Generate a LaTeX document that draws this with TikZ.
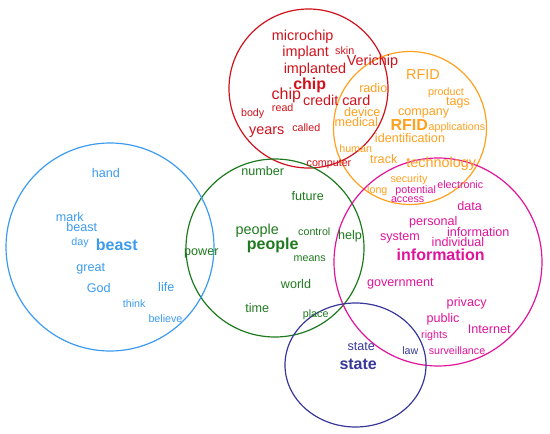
\documentclass[tikz,border=0pt]{standalone}
\usepackage{fontspec}
\setmainfont{Liberation Sans}

\definecolor{chipred}{HTML}{CF121C}
\definecolor{rfidorange}{HTML}{FFA01E}
\definecolor{infomagenta}{HTML}{E0149B}
\definecolor{peoplegreen}{HTML}{1E7A1E}
\definecolor{beastblue}{HTML}{3C9BF0}
\definecolor{statenavy}{HTML}{38389A}

\begin{document}
\begin{tikzpicture}[x=1pt,y=-1pt,
  every node/.style={inner sep=0pt},
  sm/.style={font=\fontsize{10.7}{11}\selectfont},
  md/.style={font=\fontsize{12.6}{13}\selectfont},
  lg/.style={font=\fontsize{14.4}{15}\selectfont},
  hd/.style={font=\fontsize{16}{17}\selectfont\bfseries},
  ring/.style={line width=1.2pt}]
  \useasboundingbox (0,0) rectangle (550,434);
  % topic circles
  \draw[ring,chipred] (308.5,88.5) circle (79.5);
  \draw[ring,rfidorange] (410,128) circle (76.5);
  \draw[ring,peoplegreen] (275,248) circle (89);
  \draw[ring,infomagenta] (438,262) circle (104);
  \draw[ring,beastblue] (110,247) circle (104);
  \draw[ring,statenavy] (355.5,365) ellipse (70.5 and 62);
  % chip
  \begin{scope}[chipred]
    \node[lg] (microchip) at (302.7,37) {microchip};
    \node[lg] (implant) at (305.7,52.7) {implant};
    \node[sm] (skin) at (344.7,51) {skin};
    \node[lg] (implanted) at (315,69.3) {implanted};
    \node[lg] (verichip) at (372.5,62) {Verichip};
    \node[hd] (chipB) at (309.7,85) {chip};
    \node[font=\fontsize{16}{17}\selectfont] (chip) at (286.3,95.7) {chip};
    \node[lg] (creditcard) at (336.7,100.7) {credit card};
    \node[sm] (read) at (282.7,107.3) {read};
    \node[sm] (body) at (252.7,113.3) {body};
    \node[lg] (years) at (266.7,131.7) {years};
    \node[sm] (called) at (306.3,127.7) {called};
    \node[sm] (computer) at (329,164.3) {computer};
  \end{scope}
  % RFID
  \begin{scope}[rfidorange]
    \node[lg] (rfid) at (423,74.3) {RFID};
    \node[md] (radio) at (373.3,87.7) {radio};
    \node[sm] (product) at (446,92.3) {product};
    \node[md] (tags) at (458,102.7) {tags};
    \node[md] (device) at (362.3,111.7) {device};
    \node[md] (company) at (423.7,113.3) {company};
    \node[md] (medical) at (356.3,121.7) {medical};
    \node[hd] (rfidB) at (409.3,125) {RFID};
    \node[sm] (applications) at (457,127.7) {applications};
    \node[md] (identification) at (410,137.7) {identification};
    \node[sm] (human) at (355.7,148.3) {human};
    \node[md] (track) at (383.7,159.3) {track};
    \node[lg] (technology) at (441.3,163.3) {technology};
    \node[sm] (security) at (409,180) {security};
    \node[sm] (long) at (377.3,190.7) {long};
  \end{scope}
  % information
  \begin{scope}[infomagenta]
    \node[sm] (electronic) at (460.3,184.3) {electronic};
    \node[sm] (potential) at (415.7,190.7) {potential};
    \node[sm] (access) at (407.7,200) {access};
    \node[md] (data) at (469.7,206) {data};
    \node[md] (personal) at (433.3,222.3) {personal};
    \node[md] (information) at (478.3,231.7) {information};
    \node[md] (system) at (400,237.7) {system};
    \node[md] (individual) at (458,241.7) {individual};
    \node[hd] (informationB) at (440.7,255) {information};
    \node[md] (government) at (400.3,284) {government};
    \node[md] (privacy) at (466.7,303.3) {privacy};
    \node[md] (public) at (443,319.3) {public};
    \node[md] (internet) at (489.3,329.3) {Internet};
    \node[sm] (rights) at (434.3,336) {rights};
    \node[sm] (surveillance) at (457,350.7) {surveillance};
  \end{scope}
  % people
  \begin{scope}[peoplegreen]
    \node[md] (number) at (262.7,170.7) {number};
    \node[md] (future) at (307.7,195.7) {future};
    \node[lg] (people) at (257.3,230.7) {people};
    \node[sm] (control) at (314.3,232) {control};
    \node[hd] (peopleB) at (272.7,245.7) {people};
    \node[md] (help) at (350,236.7) {help};
    \node[md] (power) at (201.3,253) {power};
    \node[sm] (means) at (309.7,258.3) {means};
    \node[md] (world) at (296,283.7) {world};
    \node[md] (time) at (257.3,308.3) {time};
    \node[sm] (place) at (315.7,314.3) {place};
  \end{scope}
  % beast
  \begin{scope}[beastblue]
    \node[md] (hand) at (105.8,173.3) {hand};
    \node[md] (mark) at (69.8,216.7) {mark};
    \node[md] (beast) at (81.7,227.3) {beast};
    \node[sm] (day) at (80,242.7) {day};
    \node[hd] (beastB) at (116.8,244.3) {beast};
    \node[md] (great) at (90.8,268.3) {great};
    \node[md] (god) at (98.7,288.3) {God};
    \node[md] (life) at (166.3,287.3) {life};
    \node[sm] (think) at (134.2,303.3) {think};
    \node[sm] (believe) at (165.5,319) {believe};
  \end{scope}
  % state
  \begin{scope}[statenavy]
    \node[md] (state) at (361.3,346) {state};
    \node[hd] (stateB) at (358.2,364) {state};
    \node[sm] (law) at (410.3,350.7) {law};
  \end{scope}
\end{tikzpicture}
\end{document}
